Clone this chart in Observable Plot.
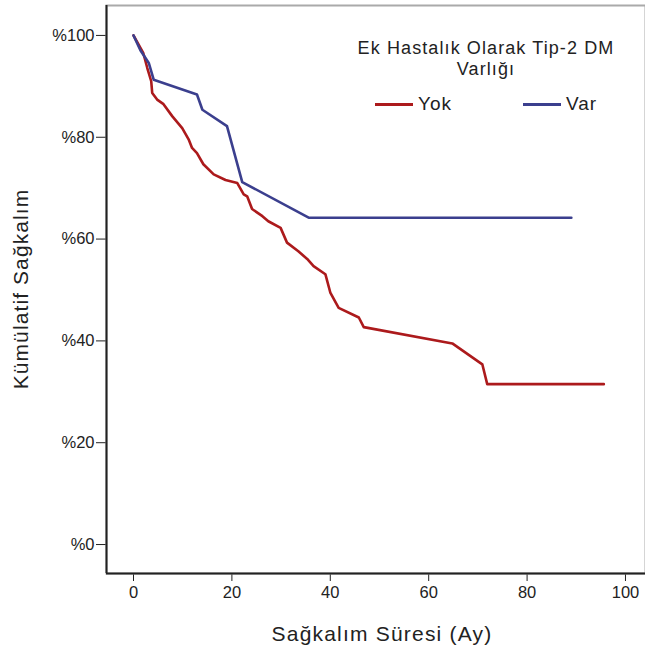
<!DOCTYPE html>
<html>
<head>
<meta charset="utf-8">
<script src="https://cdn.jsdelivr.net/npm/d3@7"></script>
<script src="https://cdn.jsdelivr.net/npm/@observablehq/plot@0.6"></script>
<style>
  body { margin: 0; background: #fff; }
  #wrap { position: relative; width: 645px; height: 653px; font-family: "Liberation Sans", Arial, sans-serif; }
  #legend { position: absolute; left: 336px; top: 38px; width: 300px; text-align: center; color: #222; font-size: 18px; letter-spacing: 1.1px; line-height: 21px; }
  .item { position: absolute; top: 93px; font-size: 19px; letter-spacing: 1px; color: #222; display: flex; align-items: center; }
  .sw { display: inline-block; width: 38px; height: 3px; margin-right: 5px; }
</style>
</head>
<body>
<div id="wrap"></div>
<script>
// Kaplan-Meier curves (months, cumulative survival %)
const yokTime = [0, 2.0, 2.8, 3.6, 3.8, 4.8, 6.1, 7.9, 9.9, 11.2, 11.9, 12.9, 14.2, 16.3, 18.7, 21.1, 22.4, 23.1, 24.1, 26.2, 27.4, 29.9, 31.2, 33.5, 35.3, 36.6, 39.0, 40.0, 41.7, 45.8, 46.8, 64.8, 70.9, 71.9, 95.6];
const yokSurv = [100, 96.5, 93.6, 91.0, 88.7, 87.4, 86.5, 84.1, 81.8, 79.6, 77.9, 76.9, 74.7, 72.7, 71.6, 71.0, 68.8, 68.4, 65.9, 64.5, 63.5, 62.2, 59.3, 57.6, 56.1, 54.7, 53.1, 49.5, 46.5, 44.6, 42.7, 39.5, 35.4, 31.5, 31.5];
const varTime = [0, 1.4, 3.1, 4.1, 12.9, 14.0, 19.0, 22.1, 35.6, 89.0];
const varSurv = [100, 97.1, 94.6, 91.3, 88.4, 85.4, 82.2, 71.2, 64.2, 64.2];
const groups = ["Yok", "Var"];
const colors = ["#ac1a1c", "#3b3f8e"];
const xTicks = [0, 20, 40, 60, 80, 100];
const yTicks = [0, 20, 40, 60, 80, 100];
const legendTitle = ["Ek Hastalık Olarak Tip-2 DM", "Varlığı"];
const xLabel = "Sağkalım Süresi (Ay)";
const yLabel = "Kümülatif Sağkalım";

const data = [
  ...yokTime.map((t, i) => ({group: "Yok", t, s: yokSurv[i]})),
  ...varTime.map((t, i) => ({group: "Var", t, s: varSurv[i]}))
];
const xDom = [-5.49, 104.07];
const yDom = [-5.69, 105.88];

const chart = Plot.plot({
  width: 645,
  height: 653,
  marginLeft: 106,
  marginRight: 0,
  marginTop: 5,
  marginBottom: 80,
  style: {fontFamily: "Liberation Sans, Arial, sans-serif", fontSize: "16.5px", color: "#222", background: "#fff"},
  x: {domain: xDom, ticks: xTicks, tickSize: 8, tickPadding: 5, label: null, tickFormat: d => d},
  y: {domain: yDom, ticks: yTicks, tickSize: 10, tickPadding: 2, label: null, tickFormat: d => "%" + d},
  color: {domain: groups, range: colors},
  marks: [
    Plot.frame({stroke: "#aaa", strokeWidth: 2}),
    Plot.ruleX([xDom[0]], {stroke: "#222", strokeWidth: 2}),
    Plot.ruleY([yDom[0]], {stroke: "#222", strokeWidth: 2}),
    Plot.line(data, {x: "t", y: "s", z: "group", stroke: "group", strokeWidth: 2.6, strokeLinejoin: "round"})
  ]
});

const wrap = document.getElementById("wrap");
wrap.appendChild(chart);

const svg = d3.select(chart);

// axis titles as SVG text
svg.append("text").attr("x", 382).attr("y", 641).attr("text-anchor", "middle")
  .style("font-size", "21px").style("letter-spacing", "1.2px").attr("fill", "#222").text(xLabel);
svg.append("text").attr("transform", "translate(28,289) rotate(-90)").attr("text-anchor", "middle")
  .style("font-size", "21px").style("letter-spacing", "1.1px").attr("fill", "#222").text(yLabel);

// legend
const lg = document.createElement("div");
lg.id = "legend";
lg.innerHTML = legendTitle.join("<br>");
wrap.appendChild(lg);
const lefts = [375, 523];
groups.forEach((g, i) => {
  const it = document.createElement("div");
  it.className = "item";
  it.style.left = lefts[i] + "px";
  it.innerHTML = `<span class="sw" style="background:${colors[i]}"></span>${g}`;
  wrap.appendChild(it);
});
</script>
</body>
</html>
